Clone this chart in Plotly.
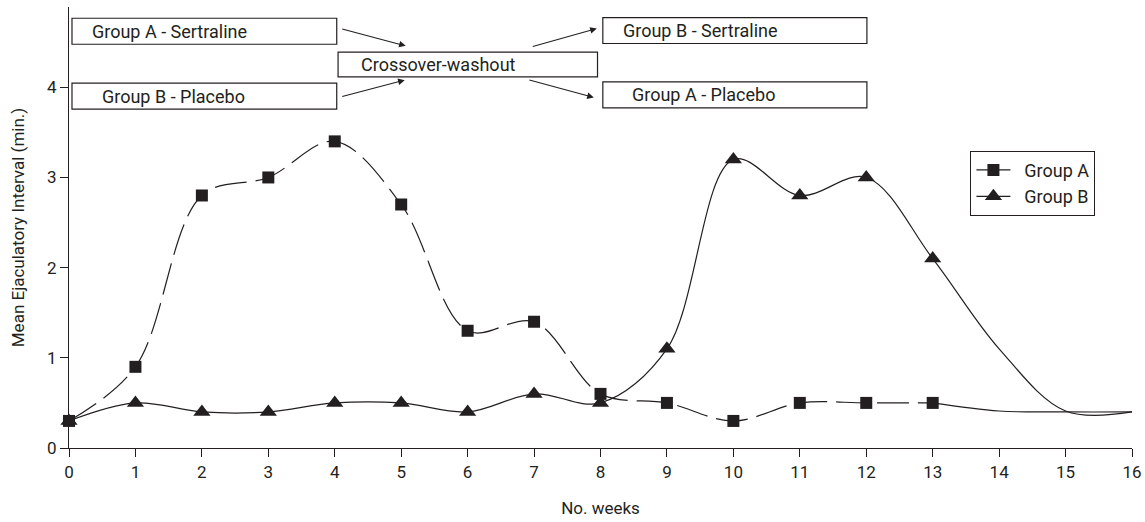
import plotly.graph_objects as go

# ---- data ----
weeks_a = [0, 1, 2, 3, 4, 5, 6, 7, 8, 9, 10, 11, 12, 13]
group_a = [0.3, 0.9, 2.8, 3.0, 3.4, 2.7, 1.3, 1.4, 0.6, 0.5, 0.3, 0.5, 0.5, 0.5]
weeks_a_tail = [13, 14, 15, 16]
group_a_tail = [0.5, 0.41, 0.4, 0.4]

weeks_b = [0, 1, 2, 3, 4, 5, 6, 7, 8, 9, 10, 11, 12, 13, 14, 15, 16]
group_b = [0.3, 0.5, 0.4, 0.4, 0.5, 0.5, 0.4, 0.6, 0.5, 1.1, 3.2, 2.8, 3.0, 2.1, 1.1, 0.41, 0.4]
b_marked = [True] * 14 + [False] * 3

x_ticks = list(range(0, 17))
y_ticks = [0, 1, 2, 3, 4]

# annotation boxes: (text, x0, x1, y0, y1, text_x)
boxes = [
    ("Group A - Sertraline", 0.045, 4.03, 4.477, 4.765, 0.316),
    ("Group B - Placebo", 0.045, 4.03, 3.757, 4.045, 0.466),
    ("Crossover-washout", 4.05, 7.955, 4.115, 4.39, 4.36),
    ("Group B - Sertraline", 8.035, 12.01, 4.485, 4.773, 8.31),
    ("Group A - Placebo", 8.035, 12.01, 3.772, 4.06, 8.45),
]
# arrows: (tail_x, tail_y, head_x, head_y)
arrows = [
    (4.09, 4.651, 5.068, 4.459),
    (4.09, 3.894, 5.053, 4.079),
    (6.958, 4.447, 7.944, 4.651),
    (6.907, 4.086, 7.899, 3.887),
]

INK = "#231f20"
FONT = "Roboto"

fig = go.Figure()

fig.add_trace(go.Scatter(
    x=weeks_a_tail, y=group_a_tail, mode="lines",
    line=dict(color=INK, width=1.2, shape="spline", smoothing=1),
    showlegend=False, hoverinfo="skip", cliponaxis=False,
))
fig.add_trace(go.Scatter(
    x=weeks_a, y=group_a, mode="lines+markers", name="Group A",
    line=dict(color=INK, width=1.2, shape="spline", smoothing=1, dash="32px,9px"),
    marker=dict(symbol="square", size=12, color=INK, opacity=1, line=dict(width=0)),
    cliponaxis=False, showlegend=False,
))
fig.add_trace(go.Scatter(
    x=weeks_b, y=group_b, mode="lines+markers", name="Group B",
    line=dict(color=INK, width=1.2, shape="spline", smoothing=1),
    marker=dict(symbol="triangle-up", size=[15 if m else 0 for m in b_marked],
                color=INK, opacity=1, line=dict(width=0)),
    cliponaxis=False, showlegend=False,
))
# legend entries
for name, sym, sz in [("Group A", "square", 12), ("Group B", "triangle-up", 15)]:
    fig.add_trace(go.Scatter(
        x=[None], y=[None], mode="lines+markers", name="\u00a0\u00a0" + name,
        line=dict(color=INK, width=1.2),
        marker=dict(symbol=sym, size=sz, color=INK, line=dict(width=0)),
        showlegend=True,
    ))

shapes = []
annotations = []
for text, x0, x1, y0, y1, tx in boxes:
    shapes.append(dict(type="rect", xref="x", yref="y", x0=x0, x1=x1, y0=y0, y1=y1,
                       line=dict(color=INK, width=1.2), fillcolor="white", layer="above"))
    annotations.append(dict(x=tx, y=(y0 + y1) / 2, xref="x", yref="y", text=text,
                            showarrow=False, xanchor="left", yanchor="middle",
                            font=dict(family=FONT, size=18, color=INK)))
for tx, ty, hx, hy in arrows:
    annotations.append(dict(x=hx, y=hy, ax=tx, ay=ty, xref="x", yref="y",
                            axref="x", ayref="y", text="", showarrow=True,
                            arrowhead=2, arrowsize=1.2, arrowwidth=1.1, arrowcolor=INK,
                            standoff=0, startstandoff=0))

fig.update_layout(
    width=1145, height=522,
    margin=dict(l=69, r=13, t=7, b=74),
    paper_bgcolor="white", plot_bgcolor="white",
    font=dict(family=FONT, size=18, color=INK),
    shapes=shapes, annotations=annotations,
    showlegend=True,
    legend=dict(x=0.848, y=0.674, xanchor="left", yanchor="top",
                bordercolor=INK, borderwidth=1, bgcolor="white",
                font=dict(family=FONT, size=18, color=INK),
                itemwidth=34, tracegroupgap=0),
    xaxis=dict(range=[0, 16], tickvals=x_ticks, ticktext=[str(v) for v in x_ticks],
               tickfont=dict(family=FONT, size=17, color=INK),
               showline=True, linecolor=INK, linewidth=1.2, ticks="outside",
               ticklen=8, tickcolor=INK, showgrid=False, zeroline=False, automargin=False,
               title=dict(text="No. weeks", font=dict(family=FONT, size=17, color=INK), standoff=21)),
    yaxis=dict(range=[0, 4.89], tickvals=y_ticks, ticktext=[str(v) for v in y_ticks],
               tickfont=dict(family=FONT, size=17, color=INK),
               showline=True, linecolor=INK, linewidth=1.2, ticks="outside",
               ticklen=8, tickcolor=INK, showgrid=False, zeroline=False, automargin=False,
               title=dict(text="Mean Ejaculatory Interval (min.)",
                          font=dict(family=FONT, size=17, color=INK), standoff=17)),
)

fig.write_html(
    "out.html",
    config={"displayModeBar": False},
    post_script="document.body.style.margin='0';document.body.style.overflow='hidden';",
)
